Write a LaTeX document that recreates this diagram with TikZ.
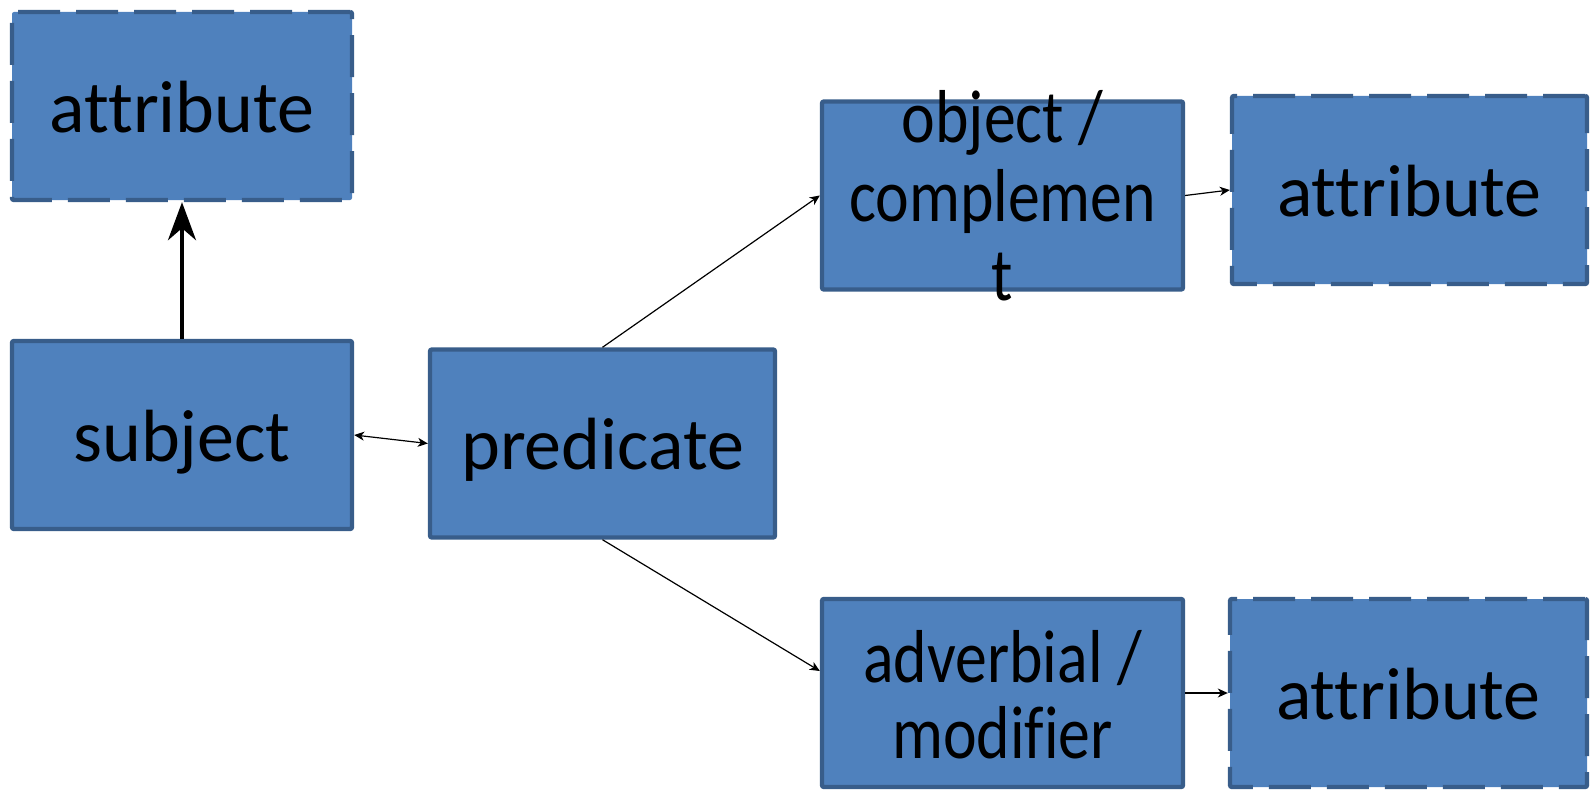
\documentclass[tikz,border=0pt]{standalone}
\usepackage{fontspec}
\setmainfont{Carlito}[Ligatures=NoCommon]
\newfontfamily\narrowfont{Carlito}[Ligatures=NoCommon, FakeStretch=0.85]
\usepackage{tikz}
\usetikzlibrary{arrows.meta,positioning,calc}

\definecolor{boxfill}{HTML}{4F81BD}
\definecolor{boxline}{HTML}{385D8A}

\begin{document}
\begin{tikzpicture}[
  x=0.5pt, y=-0.5pt,
  box/.style={draw=boxline, fill=boxfill, line width=2.2pt, rounded corners=1pt,
              minimum width=170pt, minimum height=94pt, inner sep=0pt,
              font=\fontsize{37}{39}\selectfont, text height=34pt, text depth=7.6pt},
  wide/.style={draw=boxline, fill=boxfill, line width=2.2pt, rounded corners=1pt,
               minimum width=180.5pt, minimum height=94pt, inner sep=0pt},
  wtext/.style={font=\narrowfont\fontsize{37.5}{39.5}\selectfont, align=center, inner sep=0pt},
  attr/.style={box, dash pattern=on 21pt off 8pt},
  ar/.style={-{Stealth[length=5pt, width=4.5pt, inset=1.5pt]}, line width=0.6pt},
  both ar/.style={{Stealth[length=5pt, width=4.5pt, inset=1.5pt]}-{Stealth[length=5pt, width=4.5pt, inset=1.5pt]},
                  line width=0.6pt},
  thick ar/.style={-{Stealth[length=19pt, width=14pt, inset=6pt]}, line width=2pt}
]
  \useasboundingbox (0,0) rectangle (1591,792);
  % left column
  \node[attr] (attrS) at (182,106) {attribute};
  \node[box] (subj) at (182,435) {subject};
  \node[box, minimum width=172.5pt] (pred) at (602.5,443.5) {predicate};
  % right columns
  \node[wide, label={[wtext]center:{object /\\complemen\\t}}] (obj) at (1002.5,195.5) {};
  \node[attr, minimum width=177.5pt] (attrO) at (1409.5,190) {attribute};
  \node[wide, label={[wtext, font=\narrowfont\fontsize{37.5}{38}\selectfont, yshift=-1pt]center:{adverbial /\\modifier}}] (adv) at (1002.5,693) {};
  \node[attr, minimum width=178.5pt] (attrA) at (1408.5,693) {attribute};
  \draw[thick ar] (subj.north) -- (attrS.south);
  \draw[both ar] (subj.east) -- (pred.west);
  \draw[ar] (pred.north) -- (obj.west);
  \draw[ar] (pred.south) -- ([yshift=11pt]adv.west);
  \draw[ar] (obj.east) -- (attrO.west);
  \draw[ar] (adv.east) -- (attrA.west);
\end{tikzpicture}
\end{document}
